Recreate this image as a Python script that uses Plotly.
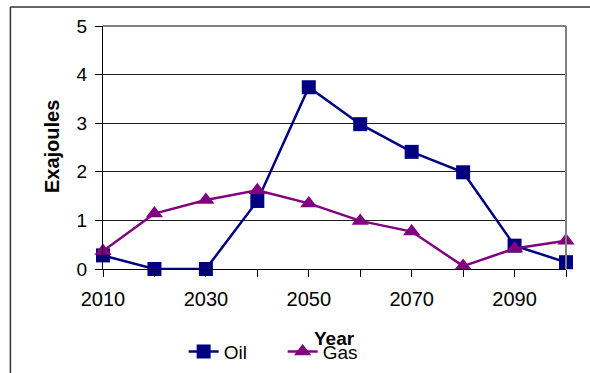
import plotly.graph_objects as go

years = [2010, 2020, 2030, 2040, 2050, 2060, 2070, 2080, 2090, 2100]
oil = [0.28, 0.0, 0.0, 1.40, 3.74, 2.98, 2.41, 1.99, 0.48, 0.14]
gas = [0.37, 1.14, 1.42, 1.62, 1.35, 0.99, 0.77, 0.06, 0.42, 0.58]
x_tick_labels = ["2010", "", "2030", "", "2050", "", "2070", "", "2090", ""]
y_ticks = [0, 1, 2, 3, 4, 5]

fig = go.Figure()
fig.add_trace(go.Scatter(x=years, y=oil, name="Oil", mode="lines+markers",
                         line=dict(color="#000080", width=2.5),
                         marker=dict(symbol="square", size=14, color="#000080"),
                         cliponaxis=False))
fig.add_trace(go.Scatter(x=years, y=gas, name="Gas", mode="lines+markers",
                         line=dict(color="#800080", width=2.5),
                         marker=dict(symbol="triangle-up", size=15, color="#800080"),
                         cliponaxis=False))

fig.update_layout(
    width=590, height=373,
    margin=dict(l=103, r=24, t=26, b=104, autoexpand=False),
    paper_bgcolor="white", plot_bgcolor="white",
    font=dict(family="Arial, Liberation Sans, sans-serif", color="black", size=19),
    showlegend=True,
    legend=dict(orientation="h", x=0.388, xanchor="center", y=-0.34, yanchor="middle",
                font=dict(size=19), bgcolor="rgba(0,0,0,0)",
                entrywidth=54, entrywidthmode="pixels"),
)
fig.update_xaxes(range=[2010, 2100], tickvals=years, ticktext=x_tick_labels,
                 ticks="outside", ticklen=7, tickcolor="black", tickwidth=1,
                 showgrid=False, showline=True, linecolor="black", linewidth=1,
                 tickfont=dict(size=20), zeroline=False, ticklabelstandoff=5)
fig.update_yaxes(range=[0, 5], tickvals=y_ticks,
                 ticks="outside", ticklen=7, tickcolor="black", tickwidth=1,
                 showgrid=True, gridcolor="#222222", gridwidth=1,
                 showline=True, linecolor="black", linewidth=1,
                 tickfont=dict(size=19), zeroline=False, ticklabelstandoff=4)

# plot-area border (top and right, gray)
fig.add_shape(type="line", xref="paper", yref="paper", x0=0, x1=1, y0=1, y1=1,
              line=dict(color="#808080", width=2))
fig.add_shape(type="line", xref="paper", yref="paper", x0=1, x1=1, y0=0, y1=1,
              line=dict(color="#808080", width=2))
# outer chart frame (top and left)
fig.add_shape(type="line", xref="paper", yref="paper", x0=-0.2, x1=1.1, y0=1.078, y1=1.078,
              line=dict(color="#333333", width=1.5))
fig.add_shape(type="line", xref="paper", yref="paper", x0=-0.2, x1=-0.2, y0=-0.5, y1=1.078,
              line=dict(color="#333333", width=1.5))

fig.add_annotation(text="<b>Year</b>", xref="paper", yref="paper", x=0.5, y=-0.284,
                   xanchor="center", yanchor="middle", showarrow=False, font=dict(size=19))
fig.add_annotation(text="<b>Exajoules</b>", xref="paper", yref="paper", x=-0.110, y=0.502,
                   xanchor="center", yanchor="middle", showarrow=False, textangle=-90,
                   font=dict(size=20))

fig.write_html("out.html")
